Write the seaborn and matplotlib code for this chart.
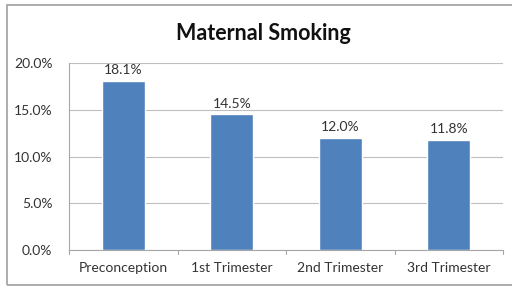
import matplotlib
matplotlib.use("Agg")
import matplotlib.pyplot as plt
import seaborn as sns
import pandas as pd
from matplotlib.patches import Rectangle

categories = ["Preconception", "1st Trimester", "2nd Trimester", "3rd Trimester"]
values = [18.1, 14.5, 12.0, 11.8]
labels = ["18.1%", "14.5%", "12.0%", "11.8%"]
yticks = [0, 5, 10, 15, 20]
ytick_labels = ["0.0%", "5.0%", "10.0%", "15.0%", "20.0%"]

sns.set_theme(style="white")
plt.rcParams["font.family"] = ["Lato", "DejaVu Sans"]

df = pd.DataFrame({"cat": categories, "val": values})

fig = plt.figure(figsize=(5.12, 2.89), dpi=100)
ax = fig.add_axes([69/512, 1-250/289, (503-69)/512, (250-63)/289])

sns.barplot(data=df, x="cat", y="val", color="#4F81BD", saturation=1, width=0.4, ax=ax)

ax.set_ylim(0, 20)
ax.set_xlim(-0.5, 3.5)
ax.set_yticks(yticks)
ax.set_yticklabels(ytick_labels, fontsize=10, color="#333333")
ax.set_xlabel("")
ax.set_ylabel("")
ax.tick_params(axis="x", labelsize=10, colors="#333333", length=0, pad=9)
ax.tick_params(axis="y", length=4, width=0.8, color="#A6A6A6", pad=8)
ax.yaxis.grid(True, color="#BFBFBF", linewidth=0.8)
ax.set_axisbelow(True)
for s in ["top", "right"]:
    ax.spines[s].set_visible(False)
for s in ["left", "bottom"]:
    ax.spines[s].set_color("#A6A6A6")
    ax.spines[s].set_linewidth(0.8)

# category boundary tick marks
for b in [-0.5, 0.5, 1.5, 2.5, 3.5]:
    ax.plot([b, b], [0, -0.45], color="#A6A6A6", lw=0.8, clip_on=False)

for i, (v, t) in enumerate(zip(values, labels)):
    ax.text(i, v + 0.5, t, ha="center", va="bottom", fontsize=10, color="#333333")

fig.text(263/512, 1-33/289, "Maternal Smoking", ha="center", va="center",
         fontsize=15.5, fontweight="bold", color="#111111")

fig.patches.append(Rectangle((7/512, 1-285/289), (520-7)/512, (285-5)/289,
                             transform=fig.transFigure, fill=False,
                             edgecolor="#A0A0A0", linewidth=1.2))

fig.savefig("out.png", dpi=100)
